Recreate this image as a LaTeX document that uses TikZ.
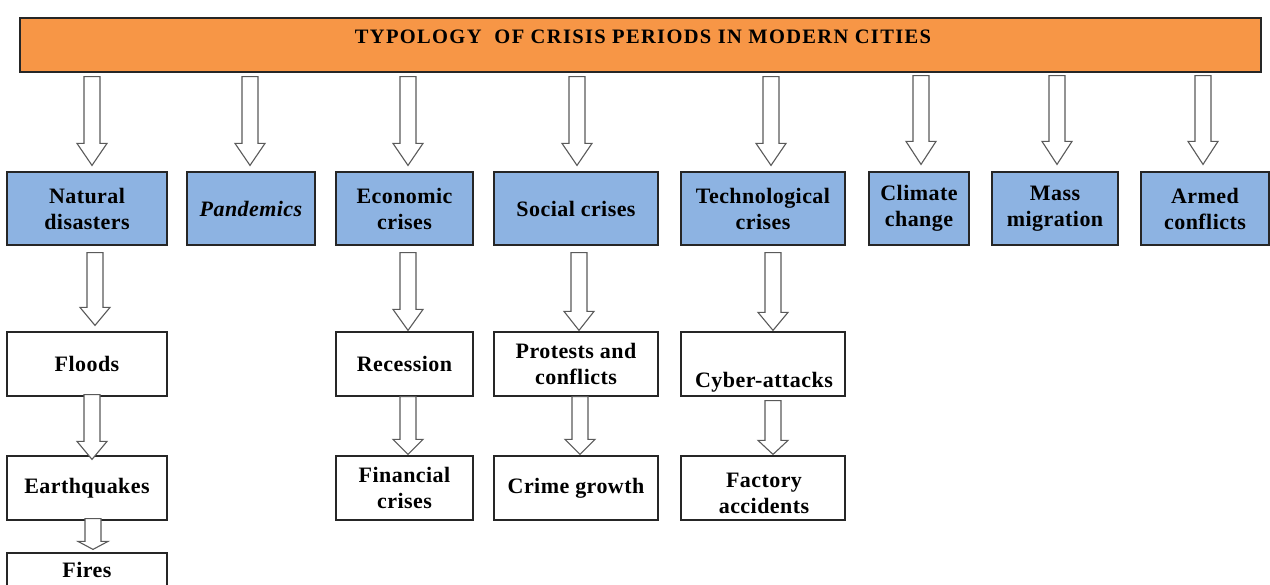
\documentclass[tikz,border=0pt]{standalone}
\usepackage{fontspec}
\setmainfont{Liberation Serif}[LetterSpace=2]
\usetikzlibrary{calc}
\definecolor{hdrorange}{HTML}{F79646}
\definecolor{bluefill}{HTML}{8DB3E2}
\definecolor{arrgray}{HTML}{5A5A5A}
\tikzset{
  boxbase/.style={draw=black!85, line width=1.2pt, inner sep=0pt, align=center,
    font=\fontsize{22}{26}\selectfont\bfseries},
  bluecell/.style={boxbase, fill=bluefill},
  whitecell/.style={boxbase, fill=white},
  hdrcell/.style={boxbase, fill=hdrorange},
  celltext/.style={inner sep=0pt, align=center, font=\fontsize{22}{26}\selectfont\bfseries},
  blockarrow/.style={draw=arrgray, line width=1.1pt, fill=white, line join=miter},
}
% name, x1, y1, x2, y2, style, text
\newcommand\cell[7]{\node[#6, minimum width={#4-#2}, minimum height={#5-#3}] (#1) at ({(#2+#4)/2},{(#3+#5)/2}) {#7};}
% from, to, x, topgap, headlen, tipgap
\newcommand\barrow[6]{%
  \draw[blockarrow] let \p1=(#1.south), \p2=(#2.north) in
    (#3pt-8pt,\y1-#4pt) -- (#3pt+8pt,\y1-#4pt) -- (#3pt+8pt,\y2+#6pt+#5pt) --
    (#3pt+15pt,\y2+#6pt+#5pt) -- (#3pt,\y2+#6pt) -- (#3pt-15pt,\y2+#6pt+#5pt) --
    (#3pt-8pt,\y2+#6pt+#5pt) -- cycle;}
\begin{document}
\begin{tikzpicture}[x=1pt,y=-1pt]
\useasboundingbox (0,0) rectangle (1270,585);
\fill[white] (0,0) rectangle (1270,585);
% header
\cell{hdr}{20}{18}{1261}{72}{hdrcell}{}
\node[celltext, font=\fontsize{20.5}{24}\selectfont\bfseries\addfontfeatures{LetterSpace=6.5}] (hdrtext) at (643,37) {TYPOLOGY\ \ OF CRISIS PERIODS IN MODERN CITIES};
% row 1
\cell{nd}{7}{172}{167}{245}{bluecell}{Natural\\disasters}
\cell{pan}{187}{172}{315}{245}{bluecell}{\itshape Pandemics}
\cell{eco}{336}{172}{473}{245}{bluecell}{Economic\\crises}
\cell{soc}{494}{172}{658}{245}{bluecell}{Social crises}
\cell{tech}{681}{172}{845}{245}{bluecell}{Technological\\crises}
\cell{clim}{869}{172}{969}{245}{bluecell}{Climate\\change}
\cell{mass}{992}{172}{1118}{245}{bluecell}{Mass\\migration}
\cell{arm}{1141}{172}{1269}{245}{bluecell}{Armed\\conflicts}
% row 2
\cell{flo}{7}{332}{167}{396}{whitecell}{Floods}
\cell{rec}{336}{332}{473}{396}{whitecell}{Recession}
\cell{pro}{494}{332}{658}{396}{whitecell}{Protests and\\conflicts}
\cell{cyb}{681}{332}{845}{396}{whitecell}{}
\node[celltext] (cybtext) at (764,382) {Cyber-attacks};
% row 3
\cell{ear}{7}{456}{167}{520}{whitecell}{Earthquakes}
\cell{fin}{336}{456}{473}{520}{whitecell}{Financial\\crises}
\cell{cri}{494}{456}{658}{520}{whitecell}{Crime growth}
\cell{fac}{681}{456}{845}{520}{whitecell}{}
\node[celltext] (factext) at (764,493) {Factory\\accidents};
% row 4
\cell{fir}{7}{553}{167}{620}{whitecell}{}
\node[celltext] (firtext) at (87,570) {Fires};
% arrows from header
\barrow{hdr}{nd}{92}{4}{22}{6}
\barrow{hdr}{pan}{250}{4}{22}{6}
\barrow{hdr}{eco}{408}{4}{22}{6}
\barrow{hdr}{soc}{577}{4}{22}{6}
\barrow{hdr}{tech}{771}{4}{22}{6}
\barrow{hdr}{clim}{921}{3}{23}{7}
\barrow{hdr}{mass}{1057}{3}{23}{7}
\barrow{hdr}{arm}{1203}{3}{23}{7}
% lower arrows
\barrow{nd}{flo}{95}{7}{18}{6}
\barrow{flo}{ear}{92}{-2}{18}{-4}
\barrow{ear}{fir}{93}{-2}{8}{3}
\barrow{eco}{rec}{408}{7}{21}{1}
\barrow{rec}{fin}{408}{0}{15}{1}
\barrow{soc}{pro}{579}{7}{19}{1}
\barrow{pro}{cri}{580}{0}{15}{1}
\barrow{tech}{cyb}{773}{7}{18}{1}
\barrow{cyb}{fac}{773}{4}{14}{1}
\end{tikzpicture}
\end{document}
